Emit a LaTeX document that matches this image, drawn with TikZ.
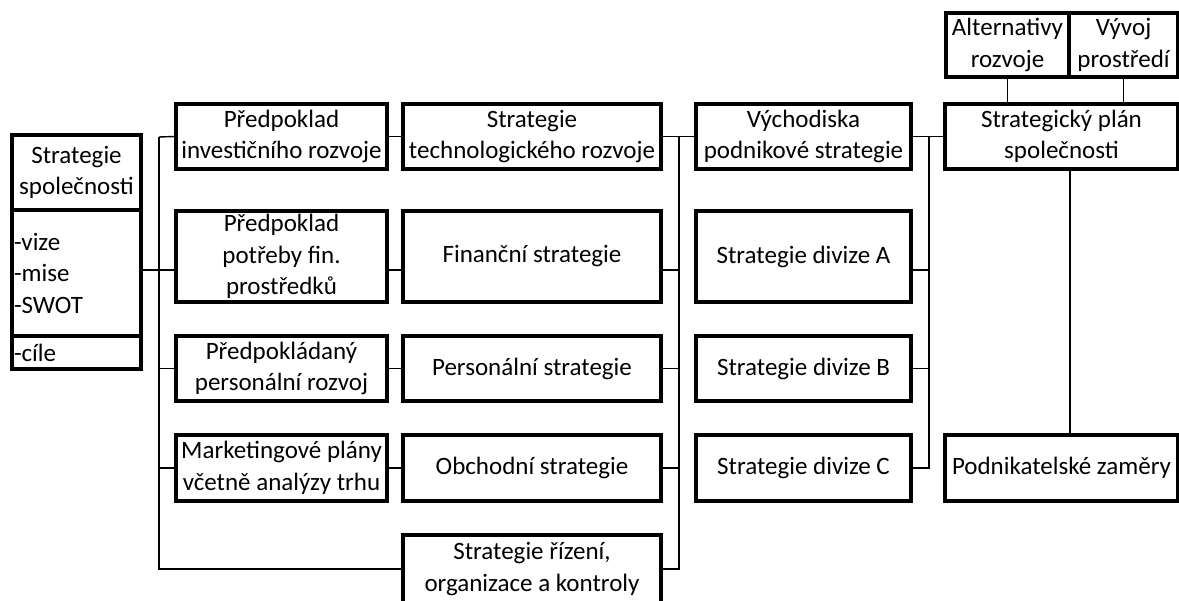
\documentclass[tikz,border=0pt]{standalone}
\usepackage{fontspec}
\setmainfont{Carlito}
\usepackage{tikz}
\usetikzlibrary{positioning}

\tikzset{
    box/.style={draw, line width=3.2pt, inner sep=1pt, align=center,
        font=\fontsize{25}{31.5}\selectfont},
    link/.style={line width=1.4pt}
}

\begin{document}
\begin{tikzpicture}[x=1pt, y=-1pt]
        \useasboundingbox (0,0) rectangle (1179,601);
        %\fill[white] (0,0) rectangle (1179,601);
        \coordinate (r2) at (0,270);
        \coordinate (bus1) at (159,137);
        \coordinate (bus2) at (679,137);
        \coordinate (bus3) at (929,137);
        \coordinate (c5) at (1070,0);

        \node[box, minimum width=129pt, minimum height=75pt] (ss1) at (76.5,172.5) {Strategie\\společnosti};
        \node[box, minimum width=129pt, minimum height=126pt, text width=125pt, align=left] (ss2) at (76.5,273) {-vize\\-mise\\-SWOT};
        \node[box, minimum width=129pt, minimum height=33pt, text width=125pt, align=left] (ss3) at (76.5,352.5) {-cíle};

        \node[box, minimum width=211pt, minimum height=65pt] (p1) at (281.5,136.5) {Předpoklad\\investičního rozvoje};
        \node[box, minimum width=211pt, minimum height=91pt] (p2) at (281.5,256.5) {Předpoklad\\potřeby fin.\\prostředků};
        \node[box, minimum width=211pt, minimum height=65pt] (p3) at (281.5,368.5) {Předpokládaný\\personální rozvoj};
        \node[box, minimum width=211pt, minimum height=66pt] (p4) at (281.5,468) {Marketingové plány\\včetně analýzy trhu};

        \node[box, minimum width=258pt, minimum height=65pt] (s1) at (532,136.5) {Strategie\\technologického rozvoje};
        \node[box, minimum width=258pt, minimum height=91pt] (s2) at (532,256.5) {Finanční strategie};
        \node[box, minimum width=258pt, minimum height=65pt] (s3) at (532,368.5) {Personální strategie};
        \node[box, minimum width=258pt, minimum height=66pt] (s4) at (532,468) {Obchodní strategie};
        \node[box, minimum width=258pt, minimum height=68pt] (s5) at (532,569) {Strategie řízení,\\organizace a kontroly};

        \node[box, minimum width=215pt, minimum height=65pt] (v1) at (803.5,136.5) {Východiska\\podnikové strategie};
        \node[box, minimum width=215pt, minimum height=91pt] (dA) at (803.5,256.5) {Strategie divize A};
        \node[box, minimum width=215pt, minimum height=65pt] (dB) at (803.5,368.5) {Strategie divize B};
        \node[box, minimum width=215pt, minimum height=66pt] (dC) at (803.5,468) {Strategie divize C};

        \node[box, minimum width=233pt, minimum height=65pt] (plan) at (1061.5,136.5) {Strategický plán\\společnosti};
        \node[box, minimum width=233pt, minimum height=66pt] (zam) at (1061.5,468) {Podnikatelské zaměry};
        \node[box, minimum width=123pt, minimum height=64pt] (alt) at (1007.5,45) {Alternativy\\rozvoje};
        \node[box, minimum width=109pt, minimum height=64pt] (vyv) at (1123.5,45) {Vývoj\\prostředí};

        \draw[link] (bus1) -- (bus1 |- s5.west) -- (s5.west);
        \draw[link] (ss2.east |- r2) -- (p2.west |- r2);
        \draw[link] (bus1) -- (p1.west);
        \draw[link] (bus1 |- p3.west) -- (p3.west);
        \draw[link] (bus1 |- p4.west) -- (p4.west);
        \draw[link] (p1) -- (s1);
        \draw[link] (p2.east |- r2) -- (s2.west |- r2);
        \draw[link] (p3) -- (s3);
        \draw[link] (p4) -- (s4);

        \draw[link] (s1.east) -- (v1.west);
        \draw[link] (bus2) -- (bus2 |- s5.east) -- (s5.east);
        \draw[link] (s2.east |- r2) -- (bus2 |- r2);
        \draw[link] (s3.east) -- (bus2 |- s3.east);
        \draw[link] (s4.east) -- (bus2 |- s4.east);

        \draw[link] (v1.east) -- (plan.west);
        \draw[link] (bus3) -- (bus3 |- dC.east) -- (dC.east);
        \draw[link] (dA.east |- r2) -- (bus3 |- r2);
        \draw[link] (dB.east) -- (bus3 |- dB.east);

        \draw[link] (alt.south) -- (alt.south |- plan.north);
        \draw[link] (vyv.south) -- (vyv.south |- plan.north);
        \draw[link] (plan.south -| c5) -- (zam.north -| c5);
    \end{tikzpicture}
\end{document}
